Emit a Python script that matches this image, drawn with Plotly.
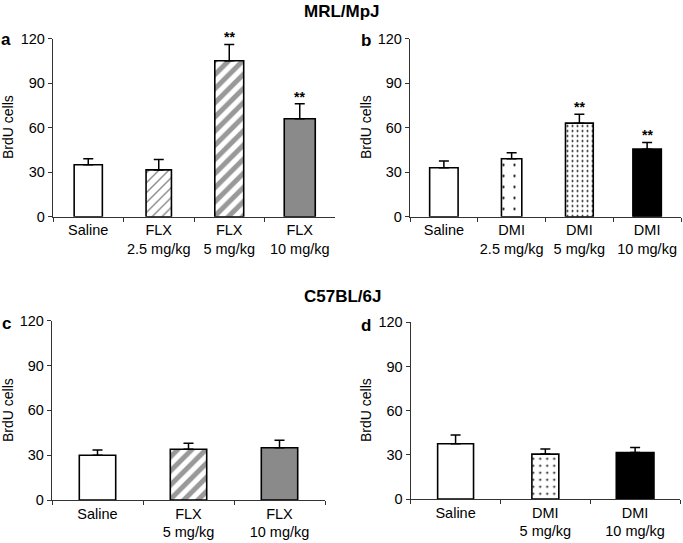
import plotly.graph_objects as go

# ---------------- data ----------------
cats_a = ["Saline", "FLX<br>2.5 mg/kg", "FLX<br>5 mg/kg", "FLX<br>10 mg/kg"]
vals_a = [35, 31.5, 105, 66]
errs_a = [4, 7, 11, 10]
sig_a = ["", "", "**", "**"]

cats_b = ["Saline", "DMI<br>2.5 mg/kg", "DMI<br>5 mg/kg", "DMI<br>10 mg/kg"]
vals_b = [33, 39, 63, 45.5]
errs_b = [4.5, 4, 6, 4.5]
sig_b = ["", "", "**", "**"]

cats_c = ["Saline", "FLX<br>5 mg/kg", "FLX<br>10 mg/kg"]
vals_c = [30, 34, 35]
errs_c = [3.5, 4, 5]

cats_d = ["Saline", "DMI<br>5 mg/kg", "DMI<br>10 mg/kg"]
vals_d = [37.5, 30.5, 31.5]
errs_d = [6, 3.5, 3.5]

y_ticks = [0, 30, 60, 90, 120]
strain_titles = ["MRL/MpJ", "C57BL/6J"]
panel_labels = ["a", "b", "c", "d"]
y_title = "BrdU cells"

# ---------------- styles ----------------
FONT = "Arial, 'Liberation Sans', sans-serif"
W, H = 683, 543

def px_x(p):
    return p / W

def px_y(p):
    return 1 - p / H

pat_white = dict(shape="", bgcolor="white")
pat_hatch_light = dict(shape="/", fgcolor="#8a8a8a", bgcolor="white", size=7, solidity=0.2, fgopacity=1)
pat_stripe = dict(shape="/", fgcolor="#999999", bgcolor="white", size=10, solidity=0.5, fgopacity=1)
pat_grey = dict(shape="", bgcolor="#8a8a8a")
pat_dots_sparse = dict(shape=".", fgcolor="black", bgcolor="white", size=11, solidity=0.035, fgopacity=1)
pat_dots_dense = dict(shape=".", fgcolor="black", bgcolor="white", size=5, solidity=0.12, fgopacity=1)
pat_dots_mid = dict(shape=".", fgcolor="black", bgcolor="white", size=7, solidity=0.07, fgopacity=1)
pat_black = dict(shape="", bgcolor="black")

panels = [
    dict(cats=cats_a, vals=vals_a, errs=errs_a, sig=sig_a,
         colors=["white", "white", "white", "#8a8a8a"],
         pats=[pat_white, pat_hatch_light, pat_stripe, pat_grey],
         widths=[0.4, 0.36, 0.41, 0.44],
         xd=[px_x(53), px_x(335)], yd=[px_y(216.7), px_y(38.5)]),
    dict(cats=cats_b, vals=vals_b, errs=errs_b, sig=sig_b,
         colors=["white", "white", "white", "black"],
         pats=[pat_white, pat_dots_sparse, pat_dots_dense, pat_black],
         widths=[0.42, 0.3, 0.41, 0.42],
         xd=[px_x(410), px_x(681)], yd=[px_y(216.7), px_y(38.5)]),
    dict(cats=cats_c, vals=vals_c, errs=errs_c, sig=["", "", ""],
         colors=["white", "white", "#8a8a8a"],
         pats=[pat_white, pat_stripe, pat_grey],
         widths=[0.4, 0.4, 0.4],
         xd=[px_x(52), px_x(325)], yd=[px_y(500), px_y(320.7)]),
    dict(cats=cats_d, vals=vals_d, errs=errs_d, sig=["", "", ""],
         colors=["white", "white", "black"],
         pats=[pat_white, pat_dots_mid, pat_black],
         widths=[0.4, 0.3, 0.42],
         xd=[px_x(410.7), px_x(680)], yd=[px_y(499), px_y(322.3)]),
]

fig = go.Figure()
annotations = []

for i, p in enumerate(panels):
    n = i + 1
    xa = "x" if n == 1 else f"x{n}"
    ya = "y" if n == 1 else f"y{n}"
    for j, c in enumerate(p["cats"]):
        fig.add_trace(go.Bar(
            x=[c], y=[p["vals"][j]],
            xaxis=xa, yaxis=ya,
            width=p["widths"][j],
            marker=dict(color=p["colors"][j], pattern=p["pats"][j],
                        line=dict(color="black", width=1.6)),
            error_y=dict(type="data", array=[p["errs"][j]], arrayminus=[0],
                         symmetric=False, color="black", thickness=1.5, width=5),
            showlegend=False, hoverinfo="skip",
        ))
        if p["sig"][j]:
            annotations.append(dict(
                x=c, y=p["vals"][j] + p["errs"][j], xref=xa, yref=ya,
                text=f"<b>{p['sig'][j]}</b>", showarrow=False,
                yanchor="bottom", yshift=-3,
                font=dict(family=FONT, size=14, color="black")))
    axis_x = dict(domain=p["xd"], anchor=ya, type="category",
                  categoryorder="array", categoryarray=p["cats"],
                  range=[-0.5, len(p["cats"]) - 0.5],
                  showline=True, linecolor="#333333", linewidth=1.3,
                  ticks="outside", tickson="boundaries", ticklen=4,
                  tickcolor="#333333", showgrid=False, zeroline=False,
                  tickangle=0, automargin=False,
                  tickfont=dict(family=FONT, size=14.5, color="black"))
    axis_y = dict(domain=p["yd"], anchor=xa, range=[0, 120],
                  tickvals=y_ticks, showline=True, linecolor="#333333",
                  linewidth=1.3, ticks="outside", ticklen=4,
                  tickcolor="#333333", showgrid=False, zeroline=False,
                  automargin=False,
                  tickfont=dict(family=FONT, size=14.5, color="black"))
    fig.layout["xaxis" if n == 1 else f"xaxis{n}"] = axis_x
    fig.layout["yaxis" if n == 1 else f"yaxis{n}"] = axis_y

# y-axis titles
for (xp, yp) in [(8, 127), (366, 127), (8, 410), (366, 410)]:
    annotations.append(dict(x=px_x(xp), y=px_y(yp), xref="paper", yref="paper",
                            xanchor="center", yanchor="middle",
                            text=y_title, textangle=-90, showarrow=False,
                            font=dict(family=FONT, size=14, color="black")))

# panel letters
for lab, (xp, yp) in zip(panel_labels, [(6, 39), (366, 40), (6, 323), (366, 325)]):
    annotations.append(dict(x=px_x(xp), y=px_y(yp), xref="paper", yref="paper",
                            xanchor="center", yanchor="middle",
                            text=f"<b>{lab}</b>", showarrow=False,
                            font=dict(family=FONT, size=17, color="black")))

# strain titles
for t, yp in zip(strain_titles, [12, 296]):
    annotations.append(dict(x=px_x(342), y=px_y(yp), xref="paper", yref="paper",
                            xanchor="center", yanchor="middle",
                            text=f"<b>{t}</b>", showarrow=False,
                            font=dict(family=FONT, size=17, color="black")))

fig.update_layout(
    width=W, height=H,
    margin=dict(l=0, r=0, t=0, b=0, autoexpand=False),
    paper_bgcolor="white", plot_bgcolor="white",
    barmode="overlay", bargap=0.5,
    annotations=annotations,
    font=dict(family=FONT, color="black"),
)

fig.write_html("out.html",
               config={"displayModeBar": False},
               post_script="document.body.style.margin='0';document.body.style.padding='0';")
